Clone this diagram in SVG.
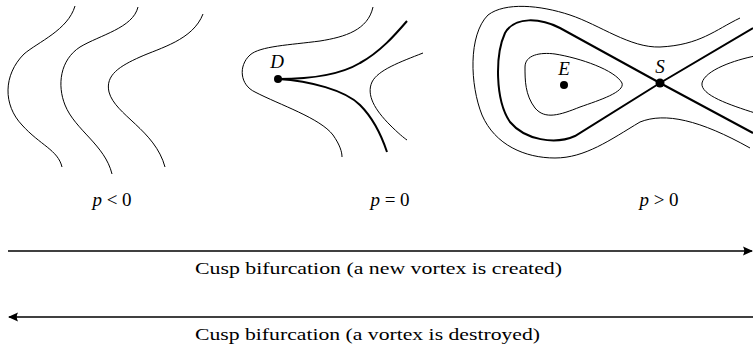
<svg xmlns="http://www.w3.org/2000/svg" width="753" height="353" viewBox="0 0 753 353">
<style>
.thin{fill:none;stroke:#000;stroke-width:1}
.thick{fill:none;stroke:#000;stroke-width:2}
.lbl{font-family:"Liberation Serif","DejaVu Serif",serif;font-size:17px;fill:#000}
.big{font-size:19px}
.it{font-style:italic}
.arr{stroke:#000;stroke-width:1.3;fill:none}
</style>
<defs>
<marker id="ah" markerWidth="11" markerHeight="10" refX="9" refY="5" orient="auto" markerUnits="userSpaceOnUse">
<path d="M0,0.5 L10,5 L0,9.5 Q2.5,5 0,0.5 Z" fill="#000"/>
</marker>
</defs>
<g id="panel-neg">
<path class="thin" d="M75,6 C68,30 38,42 24,54 C3,75 3,105 22,125 C40,145 58,150 62,167"/>
<path class="thin" d="M138,7 C133,28 100,35 80,47 C60,60 57,85 65,105 C75,130 105,145 112,174"/>
<path class="thin" d="M203,14 C193,40 160,48 140,57 C120,66 105,75 109,92 C115,115 155,130 165,167"/>
</g>
<g id="panel-zero">
<path class="thin" d="M373,7 C368,30 345,37 320,41 C290,45 260,46 250,55 C238,66 240,85 255,92 C280,105 320,118 333,135 C340,145 342,152 342,157"/>
<path class="thick" d="M278,79 C310,79 340,75 360,63 C380,52 395,35 407,21"/>
<path class="thick" d="M278,79 C310,81 345,90 360,105 C375,120 383,140 387,152"/>
<path class="thin" d="M423,53 C400,62 378,70 372,82 C366,95 375,110 390,125 C398,133 404,138 407,140"/>
<circle cx="278" cy="79" r="4" fill="#000"/>
<text class="lbl big it" x="277" y="68" text-anchor="middle">D</text>
</g>
<g id="panel-pos">
<path class="thin" d="M740,18 C715,30 700,45 660,47 C630,48 600,25 570,15 C540,5 505,2 488,15 C468,35 470,85 482,115 C495,145 525,158 555,158 C585,158 610,140 640,122 C665,112 700,120 750,148"/>
<path class="thick" d="M753,133 L660,83 L560,28 C540,18 515,16 505,33 C495,55 495,100 510,122 C525,140 555,145 575,136 L660,83 L753,28"/>
<path class="thin" d="M525,67 C525,55 540,52 555,54 C580,58 615,70 622,83 C625,92 600,100 580,107 C560,115 545,120 535,108 C525,95 525,80 525,67 Z"/>
<path class="thin" d="M755,56 C735,60 705,70 702,83 C700,95 730,105 755,113"/>
<circle cx="564" cy="85" r="4" fill="#000"/>
<circle cx="660" cy="83" r="4.5" fill="#000"/>
<text class="lbl big it" x="564" y="75" text-anchor="middle">E</text>
<text class="lbl big it" x="660" y="73" text-anchor="middle">S</text>
</g>
<g id="labels">
<text class="lbl big" x="112" y="206" text-anchor="middle"><tspan class="it">p</tspan> &lt; 0</text>
<text class="lbl big" x="390" y="206" text-anchor="middle"><tspan class="it">p</tspan> = 0</text>
<text class="lbl big" x="659" y="206" text-anchor="middle"><tspan class="it">p</tspan> &gt; 0</text>
</g>
<g id="connectors">
<line class="arr" x1="8" y1="251" x2="752" y2="251" marker-end="url(#ah)"/>
<line class="arr" x1="753" y1="317" x2="9" y2="317" marker-end="url(#ah)"/>
</g>
<g id="arrow-labels">
<text class="lbl" x="195" y="274" textLength="367" lengthAdjust="spacingAndGlyphs">Cusp bifurcation (a new vortex is created)</text>
<text class="lbl" x="195" y="340" textLength="345" lengthAdjust="spacingAndGlyphs">Cusp bifurcation (a vortex is destroyed)</text>
</g>
</svg>
